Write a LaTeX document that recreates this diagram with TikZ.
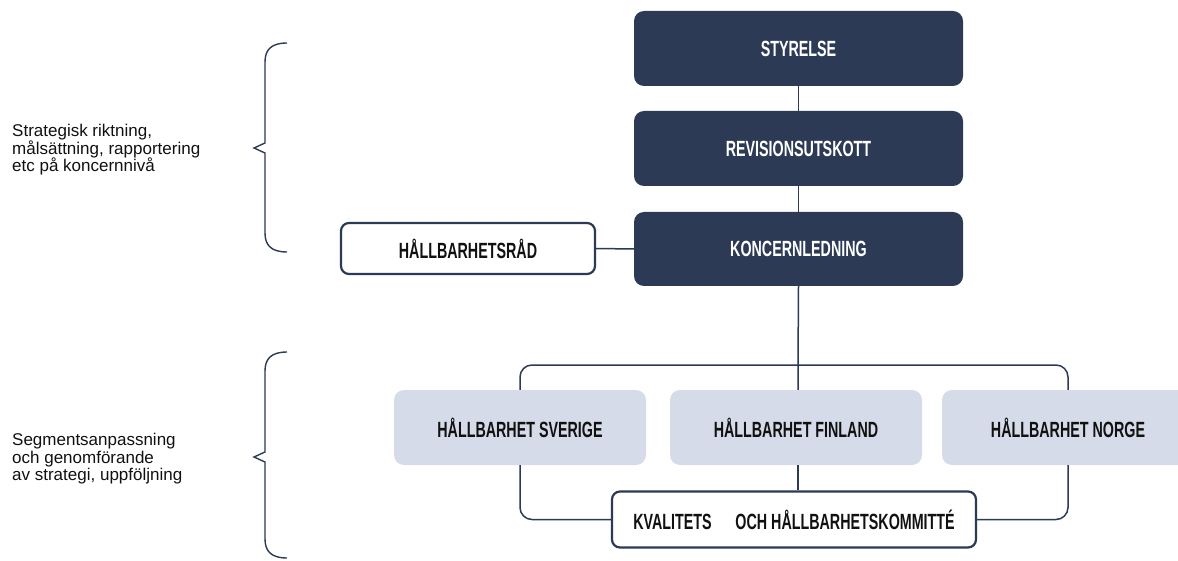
\documentclass[tikz,border=0pt]{standalone}
\usepackage{fontspec}
\setmainfont{Liberation Sans}
\newfontfamily\boxfont[FakeStretch=0.65]{Liberation Sans}
\definecolor{navy}{HTML}{2C3A55}
\definecolor{pale}{HTML}{D5DBE8}
\definecolor{ink}{HTML}{111111}
\begin{document}
\begin{tikzpicture}[x=1pt,y=-1pt,
  boxtext/.style={font=\boxfont\bfseries\fontsize{22}{25}\selectfont, inner sep=0pt, align=center},
  darkbox/.style={boxtext, fill=navy, text=white, rounded corners=10pt, minimum width=329pt, minimum height=75pt},
  palebox/.style={boxtext, fill=pale, text=ink, rounded corners=10pt, minimum width=252pt, minimum height=75pt},
  whitebox/.style={boxtext, fill=white, draw=navy, line width=2.2pt, text=ink, rounded corners=8pt},
  conn/.style={draw=navy, line width=1.5pt},
  bracestyle/.style={draw=navy, line width=1.4pt, line join=miter},
  sidetext/.style={font=\fontsize{17}{17.5}\selectfont, text=ink, align=left, inner sep=0pt, anchor=west}]
\clip (0,0) rectangle (1178,561);
\fill[white] (0,0) rectangle (1178,561);

% nodes
\node[darkbox] (sty) at (798.5,48.5) {STYRELSE};
\node[darkbox] (rev) at (798.5,148.5) {REVISIONSUTSKOTT};
\node[darkbox, minimum height=74pt] (kon) at (798.5,249) {KONCERNLEDNING};
\node[whitebox, minimum width=254pt, minimum height=51pt] (rad) at (468,248.5) {HÅLLBARHETSRÅD};
\node[palebox] (sve) at (520,427.5) {HÅLLBARHET SVERIGE};
\node[palebox] (fin) at (796,427.5) {HÅLLBARHET FINLAND};
\node[palebox] (nor) at (1068,427.5) {HÅLLBARHET NORGE};
\node[whitebox, minimum width=364pt, minimum height=56pt] (kva) at (794,519.5) {KVALITETS\hspace{0.9em} OCH HÅLLBARHETSKOMMITTÉ};

% connectors
\coordinate (bar) at (798,365);
\draw[conn] (sty.south) -- (rev.north);
\draw[conn] (rev.south) -- (kon.north);
\draw[conn] (rad.east) -- (kon.west);
\draw[conn] (kon.south) -- (bar) -- (bar |- fin.north);
\draw[conn, rounded corners=12pt] (sve.north) |- (bar) -| (nor.north);
\draw[conn] (bar |- fin.south) -- (bar |- kva.north);
\draw[conn, rounded corners=12pt] (sve.south) |- (kva.west);
\draw[conn, rounded corners=12pt] (nor.south) |- (kva.east);

% braces
\draw[bracestyle] (287,43) .. controls (271,43) and (265,50) .. (265,62) -- (265,143) -- (254,148) -- (265,153) -- (265,233) .. controls (265,245) and (271,252) .. (287,252);
\draw[bracestyle] (287,352) .. controls (271,352) and (265,359) .. (265,371) -- (265,452) -- (254,457) -- (265,462) -- (265,539) .. controls (265,551) and (271,558) .. (287,558);

% side texts
\node[sidetext] (t1) at (12,150) {Strategisk riktning,\\målsättning, rapportering\\etc på koncernnivå};
\node[sidetext] (t2) at (12,459) {Segmentsanpassning\\och genomförande\\av strategi, uppföljning};
\end{tikzpicture}
\end{document}
